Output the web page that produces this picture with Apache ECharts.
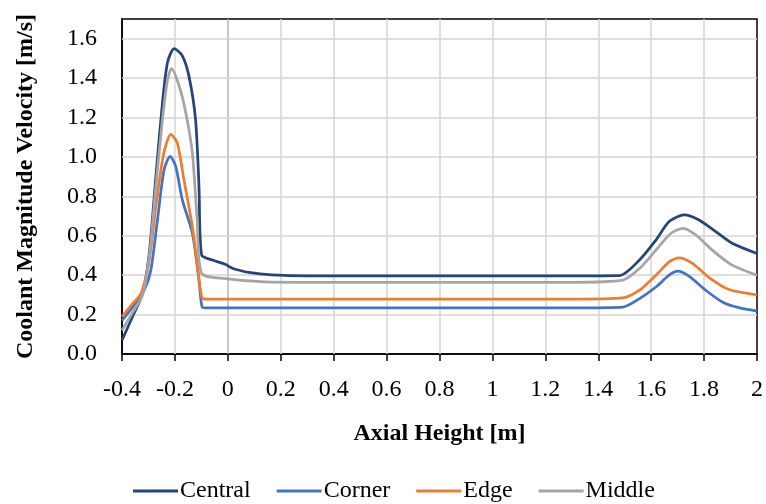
<!DOCTYPE html>
<html>
<head>
<meta charset="utf-8">
<script src="https://cdn.jsdelivr.net/npm/echarts@6/dist/echarts.min.js"></script>
<style>html,body{margin:0;padding:0;background:#fff}#c{width:766px;height:504px}</style>
</head>
<body>
<div id="c"></div>
<script>
const seriesNames = ['Central', 'Corner', 'Edge', 'Middle'];
const seriesColors = ['#264478', '#4472C4', '#ED7D31', '#A5A5A5'];
const xTicks = [-0.4, -0.2, 0, 0.2, 0.4, 0.6, 0.8, 1, 1.2, 1.4, 1.6, 1.8, 2];
const yTicks = [0, 0.2, 0.4, 0.6, 0.8, 1.0, 1.2, 1.4, 1.6];

const centralX = [-0.4, -0.36, -0.322, -0.297, -0.272, -0.247, -0.228, -0.203, -0.172, -0.147, -0.122, -0.109, -0.099, -0.059, -0.009, 0.01, 0.028, 0.079, 0.166, 0.3, 0.6, 1.0, 1.3, 1.48, 1.556, 1.618, 1.668, 1.725, 1.781, 1.844, 1.906, 2.0];
const centralY = [0.07, 0.19, 0.307, 0.51, 0.9, 1.275, 1.479, 1.55, 1.513, 1.41, 1.19, 0.85, 0.502, 0.477, 0.455, 0.44, 0.43, 0.414, 0.402, 0.397, 0.397, 0.397, 0.397, 0.398, 0.477, 0.578, 0.672, 0.706, 0.68, 0.621, 0.562, 0.51];

const cornerX = [-0.4, -0.36, -0.316, -0.291, -0.266, -0.241, -0.218, -0.197, -0.172, -0.134, -0.109, -0.097, -0.08, 0.2, 0.6, 1.0, 1.3, 1.493, 1.556, 1.618, 1.668, 1.7, 1.743, 1.806, 1.869, 1.931, 2.0];
const cornerY = [0.17, 0.238, 0.324, 0.425, 0.68, 0.935, 1.003, 0.952, 0.782, 0.613, 0.375, 0.238, 0.234, 0.234, 0.234, 0.234, 0.234, 0.238, 0.281, 0.34, 0.4, 0.42, 0.395, 0.324, 0.264, 0.235, 0.218];

const edgeX = [-0.4, -0.36, -0.328, -0.297, -0.272, -0.247, -0.232, -0.216, -0.191, -0.166, -0.134, -0.112, -0.097, -0.08, 0.2, 0.6, 1.0, 1.3, 1.493, 1.556, 1.618, 1.668, 1.706, 1.756, 1.819, 1.894, 2.0];
const edgeY = [0.19, 0.256, 0.307, 0.477, 0.748, 0.986, 1.07, 1.114, 1.07, 0.884, 0.646, 0.409, 0.284, 0.279, 0.279, 0.279, 0.279, 0.279, 0.285, 0.324, 0.4, 0.468, 0.488, 0.46, 0.388, 0.327, 0.3];

const middleX = [-0.4, -0.36, -0.322, -0.297, -0.272, -0.247, -0.228, -0.213, -0.184, -0.159, -0.134, -0.116, -0.099, -0.009, 0.141, 0.3, 0.6, 1.0, 1.3, 1.493, 1.556, 1.618, 1.675, 1.721, 1.769, 1.831, 1.906, 2.0];
const middleY = [0.12, 0.21, 0.3, 0.49, 0.85, 1.19, 1.39, 1.448, 1.36, 1.224, 1.02, 0.68, 0.409, 0.383, 0.366, 0.364, 0.364, 0.364, 0.364, 0.375, 0.434, 0.527, 0.613, 0.638, 0.604, 0.527, 0.451, 0.4];

const allX = [centralX, cornerX, edgeX, middleX];
const allY = [centralY, cornerY, edgeY, middleY];

const FONT = 'Liberation Serif';
const GRID = '#d4d4d4';
const chart = echarts.init(document.getElementById('c'), null, {renderer: 'canvas'});

chart.setOption({
  animation: false,
  backgroundColor: '#fff',
  grid: {left: 122, right: 5, top: 19, bottom: 150, show: true, borderColor: '#000', borderWidth: 1.5},
  legend: {
    data: seriesNames,
    left: 128, top: 474,
    itemWidth: 45, itemHeight: 3, itemGap: 26,
    icon: 'rect',
    textStyle: {fontFamily: FONT, fontSize: 24, color: '#000', padding: [0, 0, 0, -3]}
  },
  xAxis: [{
    type: 'value', min: xTicks[0], max: xTicks[xTicks.length - 1], interval: 0.2,
    name: 'Axial Height [m]', nameLocation: 'middle', nameGap: 68,
    nameTextStyle: {fontFamily: FONT, fontSize: 24, fontWeight: 'bold', color: '#000'},
    axisLine: {show: true, onZero: false, lineStyle: {color: '#000', width: 1.5}},
    axisTick: {show: true, inside: false, length: 7, lineStyle: {color: '#000', width: 1.5}},
    axisLabel: {fontFamily: FONT, fontSize: 24, color: '#000', margin: 24,
      formatter: v => String(Math.round(v * 10) / 10)},
    splitLine: {show: false}
  }],
  yAxis: {
    type: 'value', min: 0, max: 1.7, interval: 0.2,
    name: 'Coolant Magnitude Velocity [m/s]', nameLocation: 'middle', nameGap: 84,
    nameTextStyle: {fontFamily: FONT, fontSize: 24, fontWeight: 'bold', color: '#000'},
    axisLine: {show: true, onZero: false, lineStyle: {color: '#000', width: 1.5}},
    axisTick: {show: false},
    axisLabel: {fontFamily: FONT, fontSize: 24, color: '#000', margin: 25, showMaxLabel: false,
      formatter: v => v > 1.65 ? '' : v.toFixed(1)},
    splitLine: {show: false}
  },
  series: seriesNames.map((n, i) => ({
    name: n, type: 'line', smooth: 0.25, showSymbol: false, symbol: 'none', z: 3,
    lineStyle: {color: seriesColors[i], width: 2.75},
    itemStyle: {color: seriesColors[i]},
    data: allX[i].map((x, j) => [x, allY[i][j]]),
    markLine: i === 0 ? {silent: true, symbol: 'none', z: 1, label: {show: false}, animation: false,
      lineStyle: {color: GRID, width: 1.5, type: 'solid'},
      data: xTicks.slice(1, -1).map(v => ({xAxis: v, lineStyle: {color: Math.abs(v) < 1e-9 ? '#b4b4b4' : GRID}}))
        .concat(yTicks.slice(1).map(v => ({yAxis: v})))} : undefined
  }))
});
</script>
</body>
</html>
